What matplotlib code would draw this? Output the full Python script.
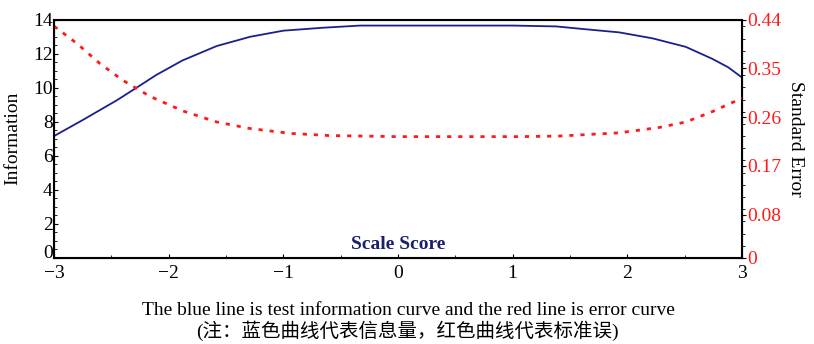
import numpy as np
import matplotlib.pyplot as plt
from matplotlib.ticker import MultipleLocator

# Test information curve (left axis)
info_theta = [-3.0, -2.75, -2.45, -2.28, -2.11, -1.88, -1.58, -1.29, -1.0, -0.8,
              -0.66, -0.33, 0.0, 0.5, 1.0, 1.38, 1.61, 1.93, 2.22, 2.51, 2.74, 2.88, 3.0]
info_value = [7.16, 8.1, 9.27, 10.0, 10.74, 11.6, 12.45, 12.99, 13.35, 13.45,
              13.52, 13.65, 13.65, 13.65, 13.65, 13.6, 13.45, 13.25, 12.9, 12.4, 11.7, 11.2, 10.6]

# Standard error curve (right axis)
se_theta = [-3.0, -2.8, -2.6, -2.4, -2.16, -1.87, -1.58, -1.29, -0.94, -0.6,
            0.0, 0.5, 1.06, 1.4, 1.93, 2.28, 2.51, 2.74, 3.0]
se_value = [0.428, 0.396, 0.359, 0.328, 0.298, 0.271, 0.251, 0.239, 0.230, 0.226,
            0.224, 0.224, 0.224, 0.225, 0.231, 0.241, 0.251, 0.270, 0.295]

left_ticks = [0, 2, 4, 6, 8, 10, 12, 14]
right_ticks = [0, 0.08, 0.17, 0.26, 0.35, 0.44]
right_labels = ["0", "0.08", "0.17", "0.26", "0.35", "0.44"]
x_ticks = [-3, -2, -1, 0, 1, 2, 3]

serif = ['Liberation Serif', 'Noto Sans CJK SC']
plt.rcParams['font.family'] = serif
plt.rcParams['axes.unicode_minus'] = True

fig = plt.figure(figsize=(8.14, 3.44), dpi=100)
ax = fig.add_axes([0.0663, 0.25, 0.8452, 0.693])

ax.plot(info_theta, info_value, color='#1a1f8c', lw=1.3)
ax.set_xlim(-3, 3)
ax.set_ylim(0, 14)
ax.set_xticks(x_ticks)
ax.set_xticklabels(["\u22123", "\u22122", "\u22121", "0", "1", "2", "3"])
ax.set_yticks(left_ticks)
ax.set_yticklabels([str(t) for t in left_ticks])
ax.get_yticklabels()[0].set_verticalalignment('baseline')  # keep "0" clear of "-3"
ax.yaxis.set_minor_locator(MultipleLocator(0.5))
ax.xaxis.set_minor_locator(MultipleLocator(0.5))
ax.tick_params(axis='y', which='major', labelsize=14, direction='in', length=3, pad=1)
ax.tick_params(axis='x', which='major', labelsize=14, direction='in', length=3, pad=5)
ax.tick_params(axis='y', which='minor', direction='in', length=2)
ax.tick_params(axis='x', which='minor', direction='in', length=2)
ax.set_ylabel("Information", fontsize=14, labelpad=8)
for s in ax.spines.values():
    s.set_linewidth(1.5)

ax.text(0, 0.3, "Scale Score", ha='center', va='bottom', fontsize=14,
        fontweight='bold', color='#1a1f6e')

ax2 = ax.twinx()
ax2.plot(se_theta, se_value, color='#ff1a1a', lw=2, linestyle=(0, (1.5, 2.5)))
ax2.set_ylim(0, 0.44)
ax2.set_yticks(right_ticks)
ax2.set_yticklabels(right_labels, color='#ff1a1a')
ax2.yaxis.set_minor_locator(MultipleLocator(0.0225))
ax2.tick_params(axis='y', which='major', labelsize=14, direction='out', length=3, pad=1)
ax2.tick_params(axis='y', which='minor', direction='out', length=2)
ax2.set_ylabel("Standard Error", fontsize=14, rotation=270, labelpad=16)

fig.text(0.502, 0.085, "The blue line is test information curve and the red line is error curve",
         ha='center', fontsize=14)
fig.text(0.5, 0.02, "(注：蓝色曲线代表信息量，红色曲线代表标准误)",
         ha='center', fontsize=14)

fig.savefig("out.png", dpi=100)
